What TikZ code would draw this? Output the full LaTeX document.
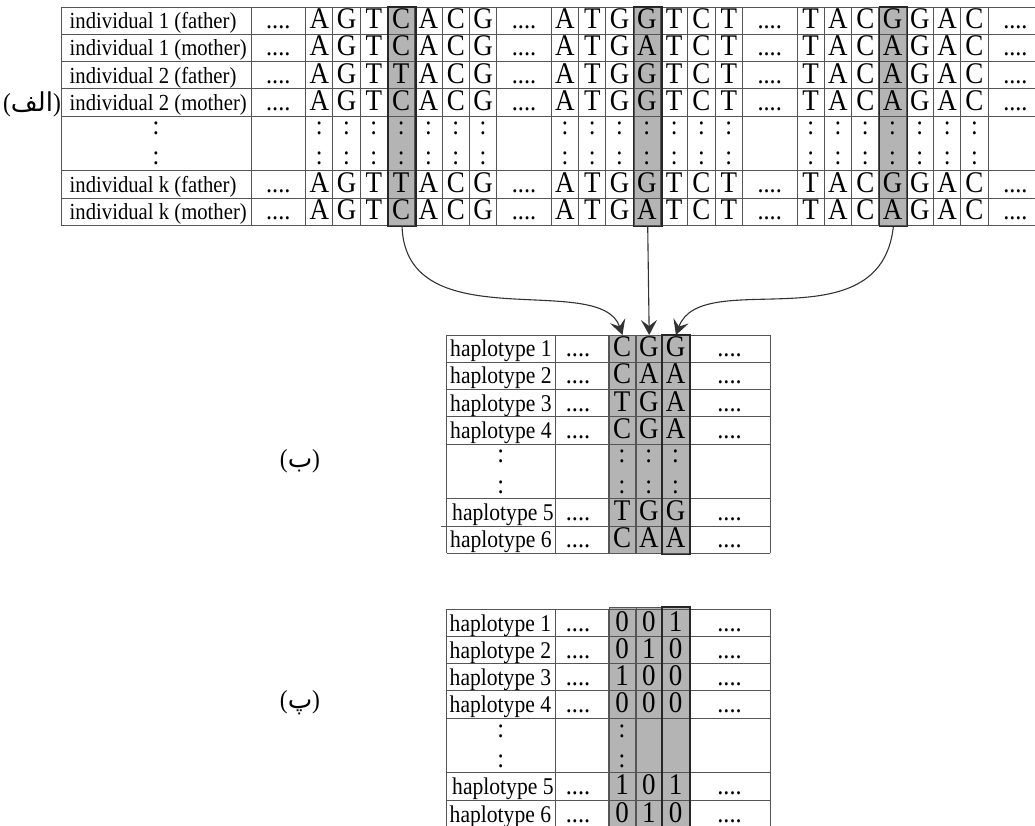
\documentclass[tikz,border=0pt]{standalone}
\usepackage{fontspec}
\setmainfont{Liberation Serif}[FakeStretch=0.9]
\newfontfamily\arabicfont[Script=Arabic]{DejaVu Sans}
\TeXXeTstate=1
\usetikzlibrary{arrows.meta,positioning,calc}
\definecolor{snpfill}{RGB}{180,180,180}
\definecolor{gridcol}{RGB}{85,85,85}
\tikzset{
  gridline/.style={draw=gridcol,line width=0.9pt},
  snpcol/.style={rectangle,fill=snpfill,draw=gridcol,line width=0.9pt,inner sep=0pt,anchor=north west},
  snpedge/.style={draw=black!85,line width=1.4pt},
  basetxt/.style={font=\fontsize{30}{30}\selectfont,inner sep=0pt,anchor=base},
  bittxt/.style={font=\fontsize{30}{30}\selectfont,inner sep=0pt,anchor=base},
  rowname/.style={font=\fontsize{23}{23}\selectfont,inner sep=0pt,anchor=base west},
  hapname/.style={font=\fontsize{24}{24}\selectfont,inner sep=0pt,anchor=base west},
  dotstxt/.style={font=\fontsize{27}{27}\selectfont,inner sep=0pt,anchor=base},
  vdot/.style={font=\fontsize{27}{27}\selectfont,inner sep=0pt},
  partname/.style={font=\fontsize{26}{26}\selectfont,inner sep=0pt},
  pick/.style={-{Stealth[length=15pt,width=16pt,inset=6pt]},draw=black!80,line width=1.1pt}
}

\begin{document}
\begin{tikzpicture}[x=1pt,y=-1pt]
  \useasboundingbox (0,0) rectangle (1035,825);
  \clip (0,0) rectangle (1035,825);

  % shaded SNP columns
  \node[snpcol,minimum width=27.3,minimum height=218.4] (snpA) at (387.9,7) {};
  \node[snpcol,minimum width=27.3,minimum height=218.4] (snpB) at (633.6,7) {};
  \node[snpcol,minimum width=27.3,minimum height=218.4] (snpC) at (879.3,7) {};
  \node[snpcol,minimum width=27,minimum height=218.4] (hapA) at (608.5,335) {};
  \node[snpcol,minimum width=26.5,minimum height=218.4] (hapB) at (635.5,335) {};
  \node[snpcol,minimum width=27,minimum height=218.4] (hapC) at (662,335) {};
  \node[snpcol,minimum width=27,minimum height=222] (binA) at (608.5,607) {};
  \node[snpcol,minimum width=26.5,minimum height=222] (binB) at (635.5,607) {};
  \node[snpcol,minimum width=27,minimum height=222] (binC) at (662,607) {};

  % (alef) individuals
  \foreach \y in {7,34.3,61.6,88.9,116.2,170.8,198.1,225.4}
    \draw[gridline] (61,\y) -- (1045,\y);
  \foreach \x in {61,251}
    \draw[gridline] (\x,7) -- (\x,225.4);
  \foreach \b in {2,11,20}
    \foreach \i in {0,...,7}
      \draw[gridline] ({251+(\b+\i)*27.3},7) -- ++(0,218.4);

  \foreach \r/\who/\seq in {
      0/individual 1 (father)/{A,G,T,C,A,C,G,A,T,G,G,T,C,T,T,A,C,G,G,A,C},
      1/individual 1 (mother)/{A,G,T,C,A,C,G,A,T,G,A,T,C,T,T,A,C,A,G,A,C},
      2/individual 2 (father)/{A,G,T,T,A,C,G,A,T,G,G,T,C,T,T,A,C,A,G,A,C},
      3/individual 2 (mother)/{A,G,T,C,A,C,G,A,T,G,G,T,C,T,T,A,C,A,G,A,C},
      6/individual k (father)/{A,G,T,T,A,C,G,A,T,G,G,T,C,T,T,A,C,G,G,A,C},
      7/individual k (mother)/{A,G,T,C,A,C,G,A,T,G,A,T,C,T,T,A,C,A,G,A,C}} {
    \pgfmathsetmacro\yb{7+\r*27.3+21.5}
    \node[rowname] (who-\r) at (69.5,\yb) {\who};
    \foreach \u in {1,10,19,28}
      \node[dotstxt] (dd-\r-\u) at ({251+\u*27.3},\yb) {....};
    \foreach \ch [count=\k from 0] in \seq {
      \pgfmathtruncatemacro\u{2+9*int(\k/7)+mod(\k,7)}
      \node[basetxt] (t-\r-\k) at ({251+(\u+0.5)*27.3},\yb) {\ch};
    }
  }
  \foreach \dy in {128,158} {
    \node[vdot] (vl-\dy) at (156,\dy) {:};
    \foreach \b in {2,11,20}
      \foreach \i in {0,...,6}
        \node[vdot] (v-\dy-\b-\i) at ({251+(\b+\i+0.5)*27.3},\dy) {:};
  }

  % (be) haplotypes
  \foreach \y in {335,362.3,389.6,416.9,444.2,498.8,526.1,553.4}
    \draw[gridline] (446.5,\y) -- (770,\y);
  \draw[gridline] (441,526.1) -- (446.5,526.1);
  \foreach \x in {446.5,555,608.5,635.5,662,689,770}
    \draw[gridline] (\x,335) -- (\x,553.4);
  \foreach \r/\n/\a/\b/\c in {0/1/C/G/G,1/2/C/A/A,2/3/T/G/A,3/4/C/G/A,6/5/T/G/G,7/6/C/A/A} {
    \pgfmathsetmacro\yb{335+\r*27.3+21.5}
    \pgfmathsetmacro\hx{\n==5 ? 452 : 450}
    \node[hapname] (hb-\n) at (\hx,\yb) {haplotype \n};
    \node[dotstxt] (hbl-\n) at (578,\yb) {....};
    \node[basetxt] (hba-\n) at (622,\yb) {\a};
    \node[basetxt] (hbb-\n) at (648.75,\yb) {\b};
    \node[basetxt] (hbc-\n) at (675.5,\yb) {\c};
    \node[dotstxt] (hbr-\n) at (729.5,\yb) {....};
  }
  \foreach \dy in {456.5,487.5}
    \foreach \x [count=\j] in {500.75,622,648.75,675.5}
      \node[vdot] (hv-\j-\dy) at (\x,\dy) {:};

  % (pe) binary coding
  \foreach \y in {609,636.3,663.6,690.9,718.2,772.8,800.1,827.4}
    \draw[gridline] (446.5,\y) -- (770,\y);
  \foreach \x in {446.5,555,608.5,635.5,662,689,770}
    \draw[gridline] (\x,609) -- (\x,827.4);
  \foreach \r/\n/\a/\b/\c in {0/1/0/0/1,1/2/0/1/0,2/3/1/0/0,3/4/0/0/0,6/5/1/0/1,7/6/0/1/0} {
    \pgfmathsetmacro\yb{609+\r*27.3+22}
    \pgfmathsetmacro\hx{\n==5 ? 452 : 449.5}
    \node[hapname] (cb-\n) at (\hx,\yb) {haplotype \n};
    \node[dotstxt] (cbl-\n) at (578,\yb) {....};
    \node[bittxt] (cba-\n) at (622,\yb) {\a};
    \node[bittxt] (cbb-\n) at (648.75,\yb) {\b};
    \node[bittxt] (cbc-\n) at (675.5,\yb) {\c};
    \node[dotstxt] (cbr-\n) at (729.5,\yb) {....};
  }
  \foreach \dy in {731,761}
    \foreach \x [count=\j] in {500.75,622}
      \node[vdot] (cv-\j-\dy) at (\x,\dy) {:};

  % dark frames round the chosen sites
  \foreach \n in {snpA,snpB,snpC,hapC,binC}
    \draw[snpedge] (\n.north west) rectangle (\n.south east);

  % part labels
  \node[partname,anchor=east] (pA) at (61,104) {({\arabicfont\beginR الف\endR})};
  \node[partname] (pB) at (300,461) {({\arabicfont\beginR ب\endR})};
  \node[partname] (pC) at (300,703) {({\arabicfont\beginR پ\endR})};

  % picking the sites
  \draw[pick] (snpA.south) .. controls +(4,115) and +(-22,-65) .. (hapA.north);
  \draw[pick] (snpB.south) -- (hapB.north);
  \draw[pick] (snpC.south) .. controls +(-13,120) and +(25,-70) .. (hapC.north);
\end{tikzpicture}
\end{document}
